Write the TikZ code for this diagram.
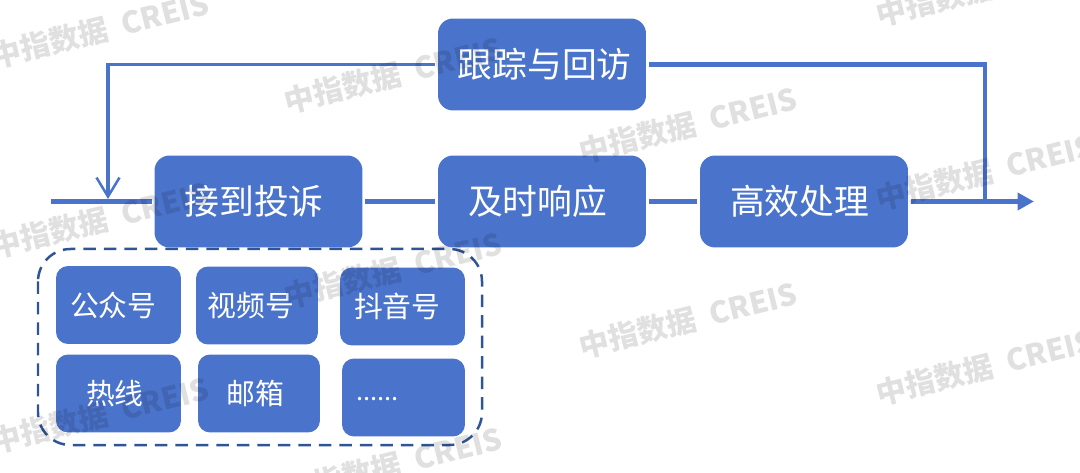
\documentclass[tikz,border=0pt]{standalone}
\usepackage{fontspec}
\setmainfont{Noto Sans CJK SC}
\usetikzlibrary{arrows.meta}
\definecolor{boxblue}{HTML}{4A74CB}
\definecolor{dashblue}{HTML}{2F5597}

\begin{document}
\begin{tikzpicture}[x=0.02cm,y=-0.02cm]
\tikzstyle{bigbox} = [fill=boxblue,text=white,rounded corners=0.3cm,inner sep=0pt,outer sep=1.7pt,minimum width=4.16cm,minimum height=1.84cm,font=\fontsize{19.8}{22}\selectfont]
\tikzstyle{smallbox} = [fill=boxblue,text=white,rounded corners=0.24cm,inner sep=0pt,outer sep=0pt,minimum width=2.46cm,minimum height=1.56cm,font=\fontsize{16.4}{19}\selectfont]
\tikzstyle{flow} = [boxblue,line width=0.105cm]
\tikzstyle{back} = [boxblue,line width=0.09cm]
\tikzstyle{mark text} = [black,opacity=0.12,rotate=14,font=\fontsize{17}{20}\selectfont\bfseries]

\useasboundingbox (0,0) rectangle (1080,473);

\node[bigbox] (track) at (542,64.5) {\kern3pt跟踪与回访};
\node[bigbox] (receive) at (258.5,201.5) {接到投诉\kern5pt};
\node[bigbox] (respond) at (542,201.5) {及时响应\kern5pt};
\node[bigbox] (handle) at (804,201.5) {高效处理\kern5pt};

\coordinate (start) at (51,201.5);
\coordinate (leftjoin) at (108,199);
\coordinate (rightjoin) at (985,201.5);
\coordinate (end) at (1034,201.5);

\draw[flow] (start) -- (receive);
\draw[flow] (receive) -- (respond);
\draw[flow] (respond) -- (handle);
\draw[flow,-{Triangle[length=0.33cm,width=0.34cm]}] (handle) -- (end);
\draw[back] (track) -| (rightjoin);
\draw[back,line width=0.065cm,-{Straight Barb[length=0.38cm,width=0.46cm,line width=0.05cm]}] (track) -| (leftjoin);

\node[smallbox,minimum width=2.5cm] (gzh) at (118.5,305) {公众号\kern6pt};
\node[smallbox,minimum width=2.44cm] (video) at (257,305.5) {视频号\kern7pt};
\node[smallbox,minimum width=2.5cm] (douyin) at (402.5,306.5) {抖音号\kern6pt};
\node[smallbox,minimum width=2.5cm] (hotline) at (118.5,393.5) {热线\kern4pt};
\node[smallbox,minimum width=2.44cm] (mail) at (259,393.5) {邮箱\kern4pt};
\node[smallbox,minimum width=2.46cm,text width=1.9cm,align=left,font=\fontsize{14.5}{17}\selectfont] (more) at (403.5,397.5) {\raisebox{-4pt}{......}};

\draw[dashblue,line width=0.05cm,dash pattern=on 0.25cm off 0.16cm,rounded corners=0.65cm] (38,249) rectangle (482,445);

\foreach \n/\x/\y in {1/100/30,2/393/75,3/688/125,4/985/172,5/100/220,6/393/270,7/688/320,8/985/367,9/100/415,10/393/465,11/985/-12,12/688/510} {
\node[mark text] (mark\n) at (\x,\y) {中指数据\hspace{0.5em}CREIS};
}

\end{tikzpicture}
\end{document}
